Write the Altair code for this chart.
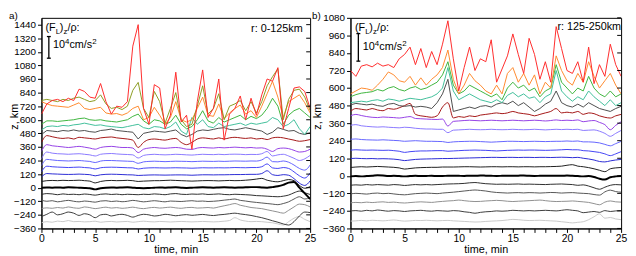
import altair as alt
import pandas as pd

# ---------------- data ----------------
T = [0, 0.5, 1, 1.5, 2, 2.5, 3, 3.5, 4, 4.5,
     5, 5.5, 6, 6.5, 7, 7.5, 8, 8.5, 9, 9.5,
     10, 10.5, 11, 11.5, 12, 12.5, 13, 13.5, 14, 14.5,
     15, 15.5, 16, 16.5, 17, 17.5, 18, 18.5, 19, 19.5,
     20, 20.5, 21, 21.5, 22, 22.5, 23, 23.5, 24, 24.5,
     25]

X_TICKS = [0, 1, 2, 3, 4, 5, 6, 7, 8, 9, 10, 11, 12, 13, 14, 15, 16, 17, 18, 19, 20, 21, 22, 23, 24, 25]
Y_TICKS_L = [-360, -240, -120, 0, 120, 240, 360, 480, 600, 720, 840, 960, 1080, 1200, 1320, 1440]
Y_TICKS_R = [-360, -240, -120, 0, 120, 240, 360, 480, 600, 720, 840, 960, 1080]

# ---- panel a) r: 0-125 km ----
L_M300 = [-310, -300, -305, -295, -300, -290, -300, -298, -302, -300,
          -296, -305, -300, -298, -303, -300, -298, -305, -300, -296,
          -300, -302, -298, -300, -303, -300, -298, -300, -302, -300,
          -298, -300, -302, -300, -296, -290, -265, -285, -295, -300,
          -298, -300, -305, -310, -320, -330, -300, -270, -255, -280,
          -300]
L_M240 = [-255, -235, -215, -240, -230, -215, -225, -245, -230, -240,
          -265, -240, -235, -250, -240, -235, -245, -260, -245, -235,
          -240, -250, -245, -235, -240, -248, -242, -238, -244, -240,
          -236, -242, -246, -240, -236, -230, -225, -232, -238, -245,
          -255, -265, -278, -292, -305, -320, -330, -300, -250, -215,
          -220]
L_M180 = [-185, -178, -182, -175, -180, -170, -178, -182, -170, -176,
          -185, -178, -172, -180, -176, -182, -178, -172, -180, -185,
          -178, -174, -180, -176, -172, -178, -182, -176, -174, -180,
          -178, -175, -180, -170, -160, -150, -140, -155, -165, -175,
          -180, -185, -195, -205, -215, -225, -200, -170, -145, -150,
          -170]
L_M120 = [-110, -120, -115, -125, -118, -112, -120, -125, -118, -122,
          -128, -118, -115, -122, -118, -124, -120, -112, -118, -125,
          -120, -115, -120, -125, -118, -120, -122, -118, -115, -120,
          -118, -122, -120, -116, -110, -105, -100, -112, -118, -125,
          -130, -135, -140, -145, -150, -140, -125, -100, -80, -100,
          -90]
L_M60 = [-60, -52, -55, -62, -55, -60, -58, -62, -56, -60,
         -66, -58, -55, -60, -57, -62, -58, -60, -62, -58,
         -60, -55, -58, -62, -55, -52, -58, -60, -56, -58,
         -55, -60, -58, -55, -60, -62, -58, -60, -62, -65,
         -70, -72, -75, -78, -80, -75, -65, -45, -30, -45,
         -60]
L_0 = [0, 2, 0, 2, 0, 3, 2, 0, -2, -5,
       -15, -5, 0, 2, 0, 2, 3, 0, -3, -5,
       -3, 0, 2, 0, 2, 3, 0, -2, 0, 2,
       3, 2, 0, 2, 3, 2, 0, 2, 3, 5,
       5, 2, 0, 5, 12, 25, 45, 50, 0, -50,
       -100]
L_60 = [55, 62, 64, 62, 65, 63, 64, 66, 62, 58,
        42, 55, 62, 64, 62, 63, 65, 62, 55, 58,
        60, 62, 62, 64, 66, 64, 62, 60, 58, 60,
        62, 63, 62, 60, 62, 64, 62, 63, 66, 70,
        76, 82, 66, 56, 52, 62, 72, 62, 20, -5,
        10]
L_120 = [95, 125, 122, 120, 118, 117, 118, 120, 118, 115,
         105, 114, 118, 119, 118, 116, 114, 113, 108, 110,
         112, 113, 112, 111, 112, 113, 113, 112, 110, 112,
         114, 114, 113, 114, 114, 115, 116, 116, 117, 118,
         118, 125, 150, 115, 108, 115, 110, 80, 40, 20,
         60]
L_180 = [140, 190, 185, 182, 180, 178, 180, 182, 178, 175,
         165, 176, 180, 181, 180, 178, 176, 175, 165, 172,
         175, 176, 175, 174, 175, 176, 175, 174, 172, 174,
         176, 175, 175, 176, 175, 176, 178, 177, 176, 178,
         178, 185, 210, 175, 170, 178, 170, 140, 105, 85,
         130]
L_240 = [195, 250, 245, 240, 238, 236, 238, 240, 236, 232,
         222, 235, 240, 240, 238, 236, 234, 232, 215, 228,
         232, 234, 232, 230, 232, 234, 233, 232, 230, 232,
         234, 233, 232, 234, 232, 234, 236, 235, 234, 236,
         235, 245, 270, 230, 228, 236, 225, 200, 170, 155,
         200]
L_300 = [255, 315, 305, 300, 298, 295, 298, 300, 295, 290,
         280, 295, 300, 302, 298, 295, 293, 290, 262, 285,
         292, 295, 292, 290, 292, 295, 293, 290, 288, 292,
         295, 293, 292, 295, 292, 295, 296, 295, 292, 294,
         293, 300, 320, 280, 290, 295, 280, 260, 240, 255,
         285]
L_360 = [320, 380, 370, 365, 360, 355, 360, 365, 358, 350,
         340, 355, 362, 365, 360, 355, 355, 350, 310, 340,
         350, 355, 350, 348, 352, 355, 350, 340, 338, 350,
         355, 352, 350, 355, 352, 355, 358, 355, 352, 355,
         350, 352, 340, 320, 345, 350, 345, 330, 315, 320,
         340]
L_420 = [400, 460, 450, 440, 435, 440, 430, 445, 440, 435,
         430, 440, 445, 448, 440, 435, 430, 420, 355, 400,
         425, 430, 425, 420, 430, 435, 400, 380, 400, 430,
         440, 435, 430, 440, 430, 440, 445, 440, 435, 440,
         430, 435, 425, 440, 445, 440, 430, 420, 410, 415,
         425]
L_480 = [470, 505, 500, 495, 505, 500, 510, 500, 505, 495,
         490, 505, 510, 518, 505, 500, 495, 490, 430, 480,
         490, 500, 495, 490, 500, 510, 470, 450, 470, 500,
         510, 505, 515, 525, 530, 515, 510, 520, 530, 520,
         510, 500, 470, 490, 530, 515, 500, 505, 480, 470,
         485]
L_540 = [510, 540, 545, 540, 550, 545, 555, 560, 570, 560,
         550, 555, 545, 540, 535, 530, 540, 550, 560, 530,
         520, 540, 535, 520, 540, 580, 500, 470, 620, 560,
         600, 540, 530, 570, 540, 550, 560, 570, 550, 570,
         560, 570, 580, 620, 600, 540, 560, 600, 520, 470,
         540]
L_600 = [560, 590, 590, 585, 590, 595, 600, 610, 615, 600,
         595, 600, 590, 585, 580, 590, 600, 630, 650, 590,
         560, 600, 590, 560, 580, 640, 560, 520, 540, 600,
         680, 590, 570, 620, 580, 600, 620, 640, 600, 630,
         610, 640, 700, 790, 720, 560, 640, 680, 700, 660,
         620]
L_660 = [760, 740, 725, 720, 715, 710, 730, 750, 700, 690,
         700, 710, 660, 650, 655, 640, 660, 700, 720, 600,
         620, 710, 640, 560, 620, 760, 600, 580, 600, 700,
         800, 640, 630, 740, 610, 660, 700, 730, 650, 680,
         620, 720, 830, 940, 800, 620, 760, 790, 820, 750,
         660]
L_720 = [770, 780, 770, 760, 780, 770, 790, 800, 780, 760,
         770, 820, 740, 700, 710, 690, 720, 860, 930, 700,
         620, 850, 760, 570, 700, 840, 600, 540, 560, 720,
         900, 650, 700, 830, 600, 720, 740, 770, 680, 760,
         660, 760, 900, 980, 1050, 600, 780, 860, 870, 800,
         680]
L_780 = [650, 740, 770, 780, 760, 790, 770, 870, 850, 800,
         790, 920, 760, 650, 720, 710, 760, 1250, 1440, 700,
         560, 910, 880, 520, 640, 1020, 580, 640, 340, 760,
         1040, 620, 700, 960, 420, 650, 700, 810, 600, 790,
         640, 820, 960, 940, 1060, 520, 700, 880, 890, 850,
         700]

# ---- panel b) r: 125-250 km ----
R_M300 = [-310, -308, -305, -308, -304, -306, -308, -305, -302, -306,
          -310, -308, -305, -306, -304, -306, -308, -306, -305, -308,
          -310, -312, -314, -316, -315, -312, -310, -308, -306, -302,
          -298, -300, -304, -306, -305, -304, -306, -308, -310, -314,
          -318, -322, -318, -314, -300, -280, -260, -290, -285, -295,
          -300]
R_M240 = [-240, -238, -242, -236, -240, -234, -238, -242, -238, -240,
          -244, -240, -238, -236, -240, -242, -238, -240, -242, -238,
          -240, -246, -250, -256, -250, -246, -244, -240, -242, -240,
          -236, -238, -240, -238, -240, -238, -236, -238, -240, -236,
          -232, -236, -240, -252, -248, -244, -250, -238, -244, -240,
          -238]
R_M180 = [-185, -182, -184, -180, -183, -180, -178, -182, -180, -184,
          -186, -183, -180, -178, -180, -182, -178, -175, -172, -170,
          -166, -170, -174, -176, -175, -172, -170, -168, -170, -174,
          -176, -174, -172, -170, -168, -166, -170, -174, -176, -175,
          -174, -172, -175, -178, -182, -190, -198, -180, -172, -178,
          -180]
R_M120 = [-124, -120, -122, -125, -120, -118, -122, -120, -124, -128,
          -130, -126, -122, -120, -118, -120, -122, -118, -115, -112,
          -108, -104, -100, -97, -100, -104, -110, -114, -116, -118,
          -116, -115, -117, -115, -116, -118, -116, -114, -115, -118,
          -116, -115, -118, -120, -122, -128, -132, -110, -98, -108,
          -112]
R_M60 = [-65, -62, -64, -60, -63, -60, -62, -64, -60, -62,
         -66, -63, -60, -62, -60, -62, -60, -58, -56, -55,
         -54, -52, -48, -46, -50, -54, -56, -58, -57, -58,
         -57, -56, -58, -57, -58, -59, -60, -58, -57, -56,
         -58, -60, -65, -62, -70, -82, -92, -78, -65, -60,
         -62]
R_0 = [-4, -2, -4, -2, 0, 4, 2, -2, 0, -2,
       -4, -2, 0, -2, -1, 0, -2, -1, 0, 1,
       0, -1, 1, 0, 2, 1, 0, -1, 0, 1,
       0, 1, 2, 0, -1, 0, 1, 0, 1, 0,
       2, 0, -2, -4, -2, -8, -20, -26, -10, -4,
       -2]
R_60 = [57, 60, 62, 60, 62, 64, 62, 60, 58, 54,
        46, 50, 54, 56, 57, 58, 58, 60, 60, 60,
        61, 62, 62, 61, 60, 61, 62, 62, 61, 62,
        62, 61, 62, 62, 61, 62, 62, 63, 64, 66,
        72, 76, 66, 62, 56, 48, 38, 28, 48, 54,
        57]
R_120 = [118, 120, 118, 117, 118, 116, 117, 116, 114, 110,
         104, 108, 112, 114, 115, 116, 117, 118, 118, 119,
         120, 121, 122, 123, 124, 125, 126, 126, 125, 126,
         126, 125, 126, 126, 125, 126, 126, 125, 126, 127,
         126, 124, 126, 120, 115, 108, 98, 95, 102, 108,
         112]
R_180 = [175, 178, 176, 175, 176, 175, 174, 175, 172, 168,
         160, 165, 168, 170, 170, 171, 172, 172, 168, 170,
         172, 174, 175, 176, 175, 174, 172, 170, 172, 174,
         175, 176, 175, 176, 176, 175, 174, 175, 176, 178,
         180, 178, 178, 172, 170, 165, 160, 150, 138, 150,
         165]
R_240 = [250, 252, 248, 246, 245, 244, 246, 244, 242, 240,
         236, 238, 240, 238, 236, 236, 235, 234, 228, 232,
         234, 235, 236, 236, 234, 232, 230, 232, 234, 236,
         236, 235, 234, 235, 236, 235, 234, 235, 236, 236,
         238, 236, 238, 232, 232, 230, 225, 215, 205, 220,
         235]
R_300 = [345, 350, 342, 338, 335, 333, 335, 332, 330, 328,
         332, 330, 325, 322, 320, 320, 318, 318, 295, 312,
         314, 316, 318, 316, 315, 316, 318, 316, 315, 316,
         318, 316, 315, 316, 318, 316, 314, 316, 318, 316,
         318, 316, 318, 310, 312, 314, 305, 290, 270, 290,
         310]
R_360 = [410, 420, 412, 405, 400, 398, 402, 400, 398, 395,
         400, 405, 392, 390, 388, 386, 385, 388, 340, 372,
         375, 378, 380, 378, 376, 378, 380, 378, 376, 378,
         380, 378, 376, 378, 380, 378, 375, 378, 382, 378,
         380, 378, 382, 370, 375, 378, 365, 350, 315, 345,
         370]
R_420 = [440, 460, 455, 450, 460, 450, 445, 460, 455, 465,
         480, 495, 420, 410, 405, 400, 410, 470, 500, 395,
         405, 400, 410, 405, 415, 420, 425, 430, 425, 430,
         440, 430, 425, 420, 410, 420, 430, 440, 460, 430,
         435, 430, 440, 420, 430, 425, 410, 400, 395, 410,
         420]
R_480 = [485, 495, 490, 485, 490, 480, 475, 490, 495, 480,
         475, 480, 470, 475, 470, 460, 500, 560, 660, 440,
         450, 460, 470, 460, 475, 480, 470, 490, 500, 490,
         510, 480, 500, 470, 440, 460, 490, 510, 580, 500,
         480, 470, 490, 470, 500, 480, 460, 450, 440, 460,
         475]
R_540 = [500, 505, 510, 505, 515, 520, 510, 525, 520, 510,
         520, 530, 525, 520, 530, 540, 560, 600, 740, 580,
         520, 540, 560, 540, 520, 510, 500, 520, 500, 550,
         570, 540, 560, 530, 540, 500, 540, 560, 720, 580,
         540, 510, 540, 520, 580, 540, 510, 480, 520, 480,
         500]
R_600 = [540, 555, 565, 570, 575, 590, 580, 600, 610, 590,
         580, 600, 610, 590, 600, 620, 640, 690, 780, 620,
         560, 580, 620, 600, 580, 560, 540, 560, 520, 600,
         640, 600, 620, 580, 600, 540, 580, 600, 760, 640,
         600, 560, 600, 580, 680, 600, 560, 540, 580, 540,
         560]
R_660 = [560, 580, 600, 595, 585, 620, 660, 710, 690, 650,
         640, 680, 620, 670, 620, 660, 690, 740, 860, 660,
         560, 620, 700, 650, 620, 580, 560, 620, 560, 700,
         740, 640, 700, 620, 690, 560, 640, 600, 820, 720,
         650, 620, 700, 640, 780, 680, 600, 650, 700, 620,
         560]
R_780 = [720, 680, 750, 760, 745, 770, 750, 760, 740, 800,
         830, 880, 760, 870, 740, 850, 760, 900, 1060, 800,
         580, 740, 880, 720, 800, 780, 930, 640, 730, 820,
         970, 830, 700, 940, 830, 660, 780, 640, 1020, 870,
         720, 700, 780, 640, 880, 630, 760, 680, 900, 760,
         680]

# line colours, bottom to top (draw order)
C_M300, C_M240, C_M180, C_M120, C_M60 = "#c9c9c9", "#3c3c3c", "#8f8f8f", "#555555", "#2d2d2d"
C_0, C_60 = "#000000", "#1e1e1e"
C_120, C_180, C_240, C_300 = "#2a2ad4", "#4242f5", "#6464ff", "#8a78ff"
C_360, C_420, C_480 = "#9440e6", "#a31515", "#4d4d4d"
C_540, C_600, C_660, C_720, C_780 = "#40bf9a", "#3db53d", "#ff8a2e", "#8c9c22", "#ff2b2b"

# (values, colour, width, interpolation)
LEFT = [(L_M300, C_M300, 1, "monotone"), (L_M240, C_M240, 1, "monotone"),
        (L_M180, C_M180, 1, "monotone"), (L_M120, C_M120, 1, "monotone"),
        (L_M60, C_M60, 1, "monotone"), (L_0, C_0, 2, "monotone"), (L_60, C_60, 1, "monotone"),
        (L_120, C_120, 1, "monotone"), (L_180, C_180, 1, "monotone"),
        (L_240, C_240, 1, "monotone"), (L_300, C_300, 1, "monotone"),
        (L_360, C_360, 1, "monotone"), (L_420, C_420, 1, "monotone"),
        (L_480, C_480, 1, "linear"), (L_540, C_540, 1, "linear"), (L_600, C_600, 1, "linear"),
        (L_660, C_660, 1, "linear"), (L_720, C_720, 1, "linear"), (L_780, C_780, 1, "linear")]
RIGHT = [(R_M300, C_M300, 1, "monotone"), (R_M240, C_M240, 1, "monotone"),
         (R_M180, C_M180, 1, "monotone"), (R_M120, C_M120, 1, "monotone"),
         (R_M60, C_M60, 1, "monotone"), (R_0, C_0, 2, "monotone"), (R_60, C_60, 1, "monotone"),
         (R_120, C_120, 1, "monotone"), (R_180, C_180, 1, "monotone"),
         (R_240, C_240, 1, "monotone"), (R_300, C_300, 1, "monotone"),
         (R_360, C_360, 1, "monotone"), (R_420, C_420, 1, "monotone"),
         (R_480, C_480, 1, "linear"), (R_540, C_540, 1, "linear"), (R_600, C_600, 1, "linear"),
         (R_660, C_660, 1, "linear"), (R_780, C_780, 1, "linear")]

# ---------------- layout / style ----------------
FONT = "Liberation Sans"
WL, WR, H = 273, 275, 214
YDOM_L = [-360, 1500]
YDOM_R = [-360, 1080]
ANN = pd.DataFrame({"k": [0]})


def x_axis():
    return alt.Axis(values=X_TICKS, labelExpr="datum.value % 5 == 0 ? datum.label : ''",
                    title="time, min", tickSize=4, labelFontSize=10.5, labelPadding=1,
                    titleFontSize=11, titleFontWeight="normal", titlePadding=0, grid=False,
                    labelOverlap=False, labelFlush=False, domainColor="black", tickColor="black",
                    labelColor="black", titleColor="black", labelFont=FONT, titleFont=FONT)


def y_axis(vals, tx):
    return alt.Axis(values=vals, format="d", title="z, km", tickSize=4, labelFontSize=10,
                    labelPadding=2, titleFontSize=11, titleFontWeight="normal", titleX=tx,
                    titleY=100, titleAngle=270, titleAlign="center", titleBaseline="middle",
                    grid=False, labelOverlap=False, labelFlush=False, domainColor="black",
                    tickColor="black", labelColor="black", titleColor="black",
                    labelFont=FONT, titleFont=FONT)


def line_layers(series, ydom, yax):
    out = []
    for vals, col, sw, interp in series:
        df = pd.DataFrame({"t": T, "z": vals})
        out.append(alt.Chart(df).mark_line(color=col, strokeWidth=sw, clip=True,
                                           interpolate=interp).encode(
            x=alt.X("t:Q", scale=alt.Scale(domain=[0, 25], nice=False), axis=x_axis()),
            y=alt.Y("z:Q", scale=alt.Scale(domain=ydom, nice=False, zero=False), axis=yax)))
    return out


def right_ticks(vals, W, ydom, yax):
    df = pd.DataFrame({"z": vals})
    return alt.Chart(df).mark_rule(color="black", strokeWidth=1).encode(
        y=alt.Y("z:Q", scale=alt.Scale(domain=ydom, nice=False, zero=False), axis=yax),
        x=alt.value(W - 4), x2=alt.value(W))


def txt(s, x, y, size=11, align="left", baseline="alphabetic"):
    return alt.Chart(ANN).mark_text(text=s, fontSize=size, align=align, baseline=baseline,
                                    font=FONT, color="black").encode(x=alt.value(x), y=alt.value(y))


def vrule(x, y1, y2):
    return alt.Chart(ANN).mark_rule(color="black", strokeWidth=1.3).encode(
        x=alt.value(x), y=alt.value(y1), y2=alt.value(y2))


def hrule(x1, x2, y):
    return alt.Chart(ANN).mark_rule(color="black", strokeWidth=1.3).encode(
        x=alt.value(x1), x2=alt.value(x2), y=alt.value(y))


def annotations(tag, tagx, fx, fy, bx, by1, by2, ux, uy, rtext, rx, ry):
    return [
        txt(tag, tagx, -7, size=10, baseline="top"),
        txt("(F", fx, fy), txt("L", fx + 10.6, fy + 3, size=8), txt(")", fx + 14.6, fy),
        txt("z", fx + 18.4, fy + 3, size=8), txt("/\u03c1:", fx + 22.4, fy),
        vrule(bx, by1, by2), hrule(bx - 2, bx + 2, by1), hrule(bx - 2, bx + 2, by2),
        txt("10", ux, uy), txt("4", ux + 12.2, uy - 4, size=8), txt("cm/s", ux + 16.8, uy),
        txt("2", ux + 40, uy - 4, size=8),
        txt(rtext, rx, ry, align="right"),
    ]


yax_l = y_axis(Y_TICKS_L, -27)
yax_r = y_axis(Y_TICKS_R, -33)

left = alt.layer(
    *line_layers(LEFT, YDOM_L, yax_l),
    right_ticks(Y_TICKS_L, WL, YDOM_L, yax_l),
    *annotations("a)", -33, 4, 13.5, 7.5, 19, 41, 11.6, 31, "r: 0-125km", WL - 7.5, 14.5),
).properties(width=WL, height=H)

right = alt.layer(
    *line_layers(RIGHT, YDOM_R, yax_r),
    right_ticks(Y_TICKS_R, WR, YDOM_R, yax_r),
    *annotations("b)", -39, 4.5, 13, 8, 16, 44, 12.5, 33, "r: 125-250km", WR, 12.5),
).properties(width=WR, height=H)

chart = alt.hconcat(left, right, spacing=41, bounds="flush").properties(
    padding=0
).configure_view(stroke="black", strokeWidth=1)

chart.save("out.html", embed_options={"renderer": "svg", "actions": False})
